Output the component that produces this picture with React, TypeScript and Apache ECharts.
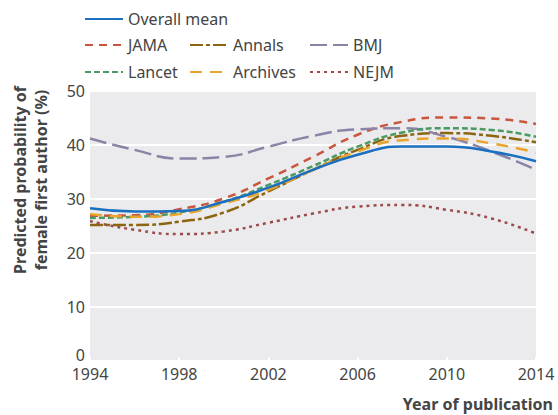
import React, { useEffect, useRef } from "react";
import * as echarts from "echarts";

const years = [1994, 1996, 1998, 2000, 2002, 2004, 2006, 2008, 2010, 2012, 2014];
const overallMean = [28.3, 27.7, 27.8, 29.5, 32.1, 35.4, 38.2, 39.7, 39.7, 38.8, 37.0];
const jama = [26.9, 27.0, 28.1, 30.1, 33.8, 37.8, 41.9, 44.3, 45.1, 44.9, 43.9];
const annals = [25.2, 25.2, 25.8, 27.5, 31.4, 35.4, 39.1, 41.7, 42.2, 41.7, 40.5];
const bmj = [41.2, 39.1, 37.5, 37.8, 39.7, 41.7, 42.9, 43.1, 41.5, 38.8, 35.4];
const lancet = [26.5, 26.7, 27.5, 29.5, 32.6, 36.1, 39.7, 42.3, 43.1, 42.8, 41.5];
const archives = [27.2, 26.7, 27.2, 29.2, 31.7, 35.4, 38.8, 40.9, 41.2, 40.3, 38.6];
const nejm = [25.9, 24.3, 23.5, 24.0, 25.6, 27.3, 28.6, 28.9, 28.0, 26.4, 23.6];
const yTicks = [0, 10, 20, 30, 40, 50];
const xTicks = [1994, 1998, 2002, 2006, 2010, 2014];

const FONT = "Noto Sans";
const TXT = "#444";

type S = { name: string; data: number[]; color: string; dash: any; left: number; top: number };
const seriesDefs: S[] = [
  { name: "Overall mean", data: overallMean, color: "#1a6fc0", dash: "solid", left: 84, top: 11 },
  { name: "JAMA", data: jama, color: "#c9553c", dash: [8, 6], left: 84, top: 37 },
  { name: "Annals", data: annals, color: "#8b6510", dash: [13, 3, 4, 3], left: 189, top: 37 },
  { name: "BMJ", data: bmj, color: "#8c84a6", dash: [17, 6], left: 309, top: 37 },
  { name: "Lancet", data: lancet, color: "#4a9a63", dash: [6, 3], left: 84, top: 64 },
  { name: "Archives", data: archives, color: "#e9a42c", dash: [12, 8], left: 189, top: 64 },
  { name: "NEJM", data: nejm, color: "#9c4b4b", dash: [3, 4], left: 309, top: 64 },
];

export default function App() {
  const ref = useRef<HTMLDivElement>(null);
  useEffect(() => {
    document.body.style.margin = "0";
    const chart = echarts.init(ref.current!, null, { renderer: "svg" });
    chart.setOption({
      animation: false,
      textStyle: { fontFamily: FONT },
      grid: {
        left: 90,
        right: 22,
        top: 91,
        bottom: 54,
        show: true,
        backgroundColor: "#ebebed",
        borderWidth: 0,
      },
      legend: seriesDefs.map((s) => ({
        data: [s.name],
        left: s.left,
        top: s.top,
        padding: 0,
        itemWidth: 38,
        itemHeight: 14,
        itemStyle: { opacity: 0, borderWidth: 0 },
        textStyle: { fontSize: 16, color: TXT, fontFamily: FONT },
        selectedMode: false,
      })),
      xAxis: {
        type: "value",
        min: xTicks[0],
        max: xTicks[xTicks.length - 1],
        interval: 4,
        axisLine: { show: false },
        axisTick: { show: true, inside: true, length: 4, lineStyle: { color: "#fff", width: 2 } },
        splitLine: { show: false },
        axisLabel: {
          fontSize: 16,
          color: TXT,
          margin: 5,
          fontFamily: FONT,
          formatter: (v: number) => String(v),
        },
      },
      yAxis: {
        type: "value",
        min: yTicks[0],
        max: yTicks[yTicks.length - 1],
        interval: 10,
        axisLine: { show: false },
        axisTick: { show: false },
        splitLine: { show: true, lineStyle: { color: "#fff", width: 2 } },
        axisLabel: {
          fontSize: 16,
          color: TXT,
          margin: 5,
          fontFamily: FONT,
          formatter: (v: number) => (v === 0 ? "{z|0}" : String(v)),
          rich: { z: { fontSize: 16, color: TXT, fontFamily: FONT, padding: [0, 0, 12, 0] } },
        },
      },
      graphic: [
        {
          type: "text",
          x: 30,
          y: 180,
          rotation: Math.PI / 2,
          style: {
            text: "Predicted probability of\nfemale first author (%)",
            font: `bold 16px "${FONT}"`,
            fill: TXT,
            align: "center",
            verticalAlign: "middle",
            lineHeight: 21,
          },
        },
        {
          type: "text",
          x: 553,
          y: 404,
          style: {
            text: "Year of publication",
            font: `bold 16px "${FONT}"`,
            fill: TXT,
            align: "right",
            verticalAlign: "middle",
          },
        },
      ],
      series: seriesDefs.map((s) => ({
        name: s.name,
        type: "line",
        smooth: 0.5,
        symbol: "none",
        data: years.map((y, i) => [y, s.data[i]]),
        lineStyle: { color: s.color, width: 2.5, type: s.dash },
        itemStyle: { color: s.color },
        z: s.name === "Overall mean" ? 5 : 2,
      })),
    });
    return () => chart.dispose();
  }, []);
  return <div ref={ref} style={{ width: 558, height: 415 }} />;
}
